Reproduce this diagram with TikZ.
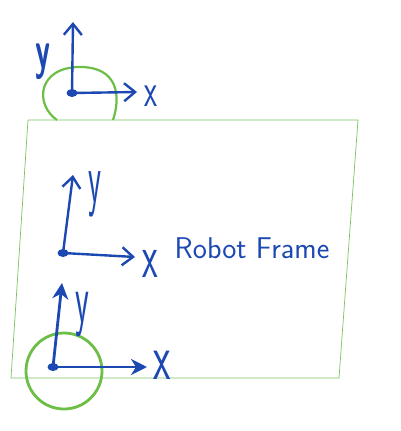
\documentclass[tikz,border=0pt]{standalone}
\usepackage{fontspec}
\usepackage{graphicx}
\usepackage{tikz}
\usetikzlibrary{arrows.meta, positioning, calc, shapes.geometric}
\definecolor{penblue}{RGB}{28, 72, 178}
\definecolor{pengreen}{RGB}{108, 190, 70}
\definecolor{framegreen}{RGB}{120, 195, 95}
% tall hand-drawn letters
\newcommand{\tallglyph}[2]{\scalebox{1}[#1]{#2}}

\begin{document}
\begin{tikzpicture}[
    x=1pt, y=-1pt,
    origin/.style={ellipse, fill=penblue, inner sep=0pt,
                   minimum width=11pt, minimum height=8pt},
    axis/.style={penblue, line width=2.4pt, line cap=round,
                 -{Straight Barb[length=11pt, width=18pt, line width=2.4pt]}},
    bigaxis/.style={penblue, line width=2.8pt, line cap=round,
                 -{Stealth[length=16pt, width=16pt, inset=5pt]}},
    lbl/.style={penblue, inner sep=0pt},
]
\useasboundingbox (0,0) rectangle (400,431);

% -- Robot frame outline --
\draw[framegreen, line width=0.7pt] (28,120) -- (358,120) -- (339,378)
    -- (11,378) -- cycle;

% -- Top frame --
\node[origin] (o1) at (72,93) {};
\coordinate (x1) at (137,92);
\coordinate (y1) at (73,22);
\draw[pengreen, line width=2.2pt]
    (57,120) .. controls (34,104) and (38,67) .. (80,67)
    .. controls (118,67) and (121,96) .. (113,120);
\draw[axis] (o1.center) -- (x1);
\draw[axis] (o1.center) -- (y1);
\node[lbl, font=\sffamily\fontsize{30}{30}\selectfont]
    (lx1) at (151,96) {\tallglyph{1.6}{x}};
\node[lbl, font=\sffamily\bfseries\fontsize{30}{30}\selectfont]
    (ly1) at (43,62) {\tallglyph{1.8}{y}};

% -- Middle frame --
\node[origin] (o2) at (63,253) {};
\coordinate (x2) at (135,257);
\coordinate (y2) at (73,175);
\draw[axis] (o2.center) -- (x2);
\draw[axis] (o2.center) -- (y2);
\node[lbl, font=\sffamily\fontsize{36}{36}\selectfont]
    (lx2) at (150,264) {\tallglyph{1.75}{x}};
\node[lbl, font=\sffamily\fontsize{30}{30}\selectfont]
    (ly2) at (95,194) {\tallglyph{2.4}{y}};
\node[lbl, font=\sffamily\fontsize{30}{30}\selectfont] (name)
    at (252,248) {Robot Frame};

% -- Bottom frame --
\node[origin] (o3) at (53,367) {};
\coordinate (x3) at (147,367);
\coordinate (y3) at (62,283);
\draw[pengreen, line width=2.8pt] (64,371) circle[radius=38];
\draw[bigaxis] (o3.center) -- (x3);
\draw[bigaxis] (o3.center) -- (y3);
\node[lbl, font=\sffamily\fontsize{40}{40}\selectfont]
    (lx3) at (162,365) {\tallglyph{1.65}{x}};
\node[lbl, font=\sffamily\fontsize{32}{32}\selectfont]
    (ly3) at (82,315) {\tallglyph{2.2}{y}};

\end{tikzpicture}
\end{document}
